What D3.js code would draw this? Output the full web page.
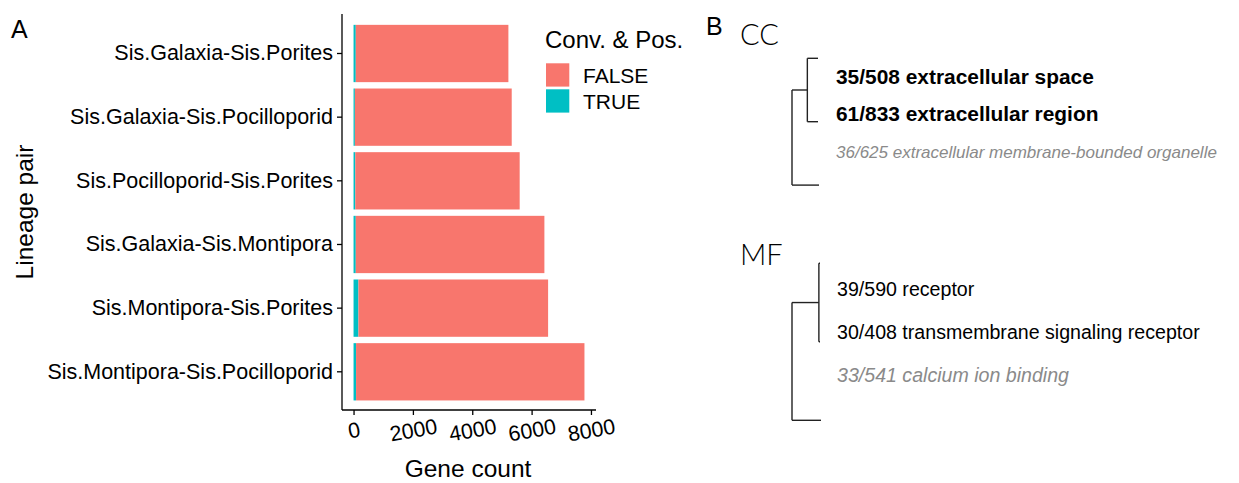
<!DOCTYPE html>
<meta charset="utf-8">
<style>
body { margin: 0; background: white; }
svg { display: block; font-family: "Liberation Sans", Arial, Helvetica, sans-serif; }
.axis path, .axis line { fill: none; stroke: #000; stroke-width: 1.3px; }
.tree line { stroke: #222; stroke-width: 1.4px; }
.head { font-family: Lato, "Open Sans", sans-serif; font-weight: 300; }
</style>
<body>
<svg width="1239" height="483"></svg>
<script src="https://d3js.org/d3.v7.min.js"></script>
<script>
// panel A data
var pairs = ["Sis.Galaxia-Sis.Porites", "Sis.Galaxia-Sis.Pocilloporid", "Sis.Pocilloporid-Sis.Porites",
             "Sis.Galaxia-Sis.Montipora", "Sis.Montipora-Sis.Porites", "Sis.Montipora-Sis.Pocilloporid"];
var trueCounts  = [75, 45, 60, 75, 165, 85];
var falseCounts = [5143, 5285, 5538, 6356, 6391, 7696];
var xTicks = [0, 2000, 4000, 6000, 8000];
var groups = ["FALSE", "TRUE"];
var colors = ["#F8766D", "#00BFC4"];

// panel B data
var ccTerms  = ["35/508 extracellular space", "61/833 extracellular region", "36/625 extracellular membrane-bounded organelle"];
var ccStyle  = ["bold", "bold", "gray"];
var mfTerms  = ["39/590 receptor", "30/408 transmembrane signaling receptor", "33/541 calcium ion binding"];
var mfStyle  = ["plain", "plain", "gray"];
var ccInnerHeight = 0.41;
var mfInnerHeight = 0.04;

var svg = d3.select("svg");

// ---------- A ----------
var totals = trueCounts.map(function(t, i) { return t + falseCounts[i]; });
var maxT = d3.max(totals);

var x = d3.scaleLinear().domain([-0.05 * maxT, 1.05 * maxT]).range([342, 596]);
var y = d3.scaleBand().domain(pairs).range([15.3, 410]).paddingInner(0.1).paddingOuter(0.15);

var rows = pairs.map(function(p, i) { return {pair: p, t: trueCounts[i], f: falseCounts[i]}; });

svg.append("g").selectAll("rect.t").data(rows).enter().append("rect")
    .attr("x", function(d) { return x(0); })
    .attr("width", function(d) { return x(d.t) - x(0); })
    .attr("y", function(d) { return y(d.pair); })
    .attr("height", y.bandwidth())
    .attr("fill", colors[1]);

svg.append("g").selectAll("rect.f").data(rows).enter().append("rect")
    .attr("x", function(d) { return x(d.t); })
    .attr("width", function(d) { return x(d.t + d.f) - x(d.t); })
    .attr("y", function(d) { return y(d.pair); })
    .attr("height", y.bandwidth())
    .attr("fill", colors[0]);

var yAxis = svg.append("g").attr("class", "axis")
    .attr("transform", "translate(342,0)")
    .call(d3.axisLeft(y).tickSize(5).tickSizeOuter(0).tickPadding(4));
yAxis.select(".domain").attr("d", "M0,14V410");
yAxis.selectAll("text").attr("font-size", "21.5px").attr("fill", "#000").attr("font-family", null);

var xAxis = svg.append("g").attr("class", "axis")
    .attr("transform", "translate(0,410)")
    .call(d3.axisBottom(x).tickValues(xTicks).tickFormat(d3.format("d")).tickSize(5).tickSizeOuter(0));
xAxis.select(".domain").attr("d", "M342,0H596");
xAxis.selectAll("text")
    .attr("font-size", "21.5px").attr("fill", "#000").attr("font-family", null)
    .attr("y", 0).attr("dy", "0.35em")
    .attr("transform", "translate(0,20) rotate(-10)");

svg.append("text").attr("x", 468).attr("y", 477).attr("text-anchor", "middle")
    .attr("font-size", "24.5px").text("Gene count");
svg.append("text").attr("transform", "translate(33,212) rotate(-90)").attr("text-anchor", "middle")
    .attr("font-size", "24.5px").text("Lineage pair");
svg.append("text").attr("x", 11).attr("y", 38).attr("font-size", "25px").text("A");

// legend
var leg = svg.append("g").attr("transform", "translate(545,0)");
leg.append("text").attr("x", 0).attr("y", 48).attr("font-size", "24px").text("Conv. & Pos.");
var key = leg.selectAll("g.k").data(groups).enter().append("g")
    .attr("transform", function(d, i) { return "translate(1," + (63.3 + i * 26) + ")"; });
key.append("rect").attr("width", 23.3).attr("height", 23.3)
    .attr("fill", function(d, i) { return colors[i]; });
key.append("text").attr("x", 37).attr("y", 20).attr("font-size", "21px").text(function(d) { return d; });

// ---------- B ----------
svg.append("text").attr("x", 706).attr("y", 35).attr("font-size", "25px").text("B");

function drawTree(o) {
  var g = svg.append("g").attr("class", "tree");
  var depth = d3.scaleLinear().domain([1, 0]).range([792, o.leafX]);
  var leafY = d3.scaleLinear().domain([0, 1]).range([o.top, o.top + o.unit]);
  var innerX = depth(o.inner);
  var innerMid = (leafY(0) + leafY(1)) / 2;
  [0, 1].forEach(function(i) {
    g.append("line").attr("x1", innerX).attr("x2", depth(0)).attr("y1", leafY(i)).attr("y2", leafY(i));
  });
  g.append("line").attr("x1", innerX).attr("x2", innerX).attr("y1", leafY(0)).attr("y2", leafY(1));
  g.append("line").attr("x1", depth(1)).attr("x2", innerX).attr("y1", innerMid).attr("y2", innerMid);
  g.append("line").attr("x1", depth(1)).attr("x2", depth(1)).attr("y1", innerMid).attr("y2", leafY(2));
  g.append("line").attr("x1", depth(1)).attr("x2", depth(0) + 1).attr("y1", leafY(2)).attr("y2", leafY(2));

  svg.append("text").attr("class", "head").attr("x", 740).attr("y", o.headY)
      .attr("font-size", "29px").text(o.head);

  var ty = d3.scaleLinear().domain([0, 1]).range([o.textTop, o.textTop + o.textStep]);
  svg.append("g").selectAll("text").data(o.terms).enter().append("text")
      .attr("x", o.textX)
      .attr("y", function(d, i) { return ty(i); })
      .attr("font-size", function(d, i) { return o.styles[i] == "gray" ? o.graySize : o.size; })
      .attr("font-weight", function(d, i) { return o.styles[i] == "bold" ? "bold" : null; })
      .attr("font-style", function(d, i) { return o.styles[i] == "gray" ? "italic" : null; })
      .attr("fill", function(d, i) { return o.styles[i] == "gray" ? "#8a8a8a" : "#000"; })
      .text(function(d) { return d; });
}

drawTree({head: "CC", headY: 45, terms: ccTerms, styles: ccStyle, inner: ccInnerHeight,
          leafX: 818, top: 58.3, unit: 63.4, textX: 836, textTop: 84, textStep: 37,
          size: "20.9px", graySize: "17px"});
drawTree({head: "MF", headY: 265, terms: mfTerms, styles: mfStyle, inner: mfInnerHeight,
          leafX: 820, top: 263.3, unit: 78.5, textX: 837, textTop: 296, textStep: 43,
          size: "19.6px", graySize: "19.6px"});
</script>
</body>
